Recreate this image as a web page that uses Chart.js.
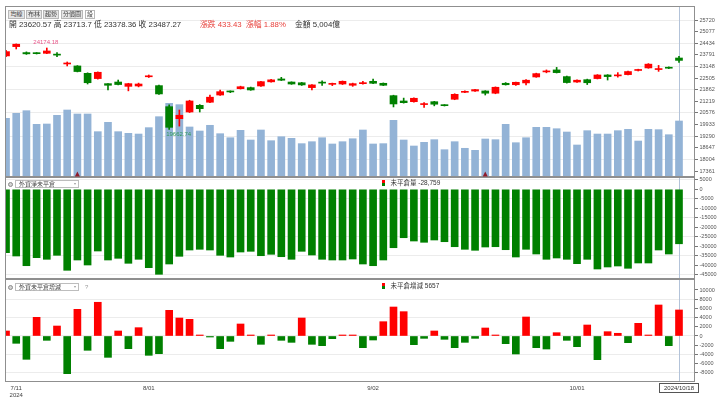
<!DOCTYPE html>
<html>
<head>
<meta charset="utf-8">
<script src="https://cdn.jsdelivr.net/npm/chart.js"></script>
<style>
  body { margin:0; width:720px; height:399px; overflow:hidden; position:relative; background:#fff;
         font-family:"Liberation Sans","Noto Sans CJK TC",sans-serif; color:#333; }
  .wrap { position:absolute; left:0; width:720px; }
  .ov { position:absolute; white-space:nowrap; z-index:2; }
  .tab { position:absolute; top:10px; height:9px; box-sizing:border-box; border:1px solid #b8b8b8;
         background:#e6e6e6; font-size:6px; line-height:7px; text-align:center; z-index:2; color:#444; }
  .info { top:20.5px; font-size:7.8px; line-height:8px; }
  .up { color:#e8413c; }
  .knob { position:absolute; width:5px; height:5px; box-sizing:border-box; border-radius:50%;
          border:1px solid #8a8a8a; background:#d4d4d4; z-index:2; }
  .sel { position:absolute; left:15px; width:64px; height:8px; box-sizing:border-box; border:1px solid #bdbdbd;
         background:#fff; font-size:6px; line-height:6px; padding-left:3px; color:#444; z-index:2; }
  .sel i { position:absolute; right:2px; top:2px; width:0; height:0; border-left:1.5px solid transparent;
           border-right:1.5px solid transparent; border-top:2px solid #999; }
  .legico { position:absolute; left:382px; width:3px; height:6px; z-index:2;
            background:linear-gradient(#f00 0 50%, #008000 50% 100%); }
  .leg { font-size:6.5px; line-height:7px; color:#333; }
</style>
</head>
<body>
<div class="wrap" style="top:0;height:178px"><canvas id="c1"></canvas></div>
<div class="wrap" style="top:177px;height:103px"><canvas id="c2"></canvas></div>
<div class="wrap" style="top:279px;height:120px"><canvas id="c3"></canvas></div>

<div class="tab" style="left:8px;width:17px">均線</div>
<div class="tab" style="left:26px;width:16px">布林</div>
<div class="tab" style="left:43px;width:16px">趨勢</div>
<div class="tab" style="left:61px;width:22px">分價圖</div>
<div class="tab" style="left:85px;width:10px;background:#fff">設</div>

<div class="ov info" id="ohlc" style="left:9px"></div>
<div class="ov info up" id="chg" style="left:200px"></div>
<div class="ov info up" id="pct" style="left:246px"></div>
<div class="ov info" id="amt" style="left:295px"></div>

<div class="knob" style="left:7.5px;top:181.5px"></div>
<div class="sel" style="top:179.5px">外資淨未平倉<i></i></div>
<div class="legico" style="top:179.5px"></div>
<div class="ov leg" id="leg2" style="left:390.5px;top:179px"></div>

<div class="knob" style="left:7.5px;top:284.5px"></div>
<div class="sel" style="top:283px">外資未平倉增減<i></i></div>
<div class="ov" style="left:85px;top:284px;font-size:6px;color:#999">?</div>
<div class="legico" style="top:282.5px"></div>
<div class="ov leg" id="leg3" style="left:390.5px;top:282px"></div>

<script>
const year = "2024";
const dates = ["7/10", "7/11", "7/12", "7/15", "7/16", "7/17", "7/18", "7/19", "7/22", "7/23",
  "7/26", "7/29", "7/30", "7/31", "8/01", "8/02", "8/05", "8/06", "8/07", "8/08",
  "8/09", "8/12", "8/13", "8/14", "8/15", "8/16", "8/19", "8/20", "8/21", "8/22",
  "8/23", "8/26", "8/27", "8/28", "8/29", "8/30", "9/02", "9/03", "9/04", "9/05",
  "9/06", "9/09", "9/10", "9/11", "9/12", "9/13", "9/16", "9/18", "9/19", "9/20",
  "9/23", "9/24", "9/25", "9/26", "9/27", "9/30", "10/01", "10/04", "10/07", "10/08",
  "10/09", "10/11", "10/14", "10/15", "10/16", "10/17", "10/18"];

const opens = [23735, 24250, 23920, 23890, 23880, 23830, 23290, 23180, 22770, 22480,
  22200, 22290, 22050, 22070, 22580, 22090, 20925, 20260, 20630, 21000,
  21170, 21570, 21770, 21920, 21980, 22070, 22300, 22460, 22290, 22250,
  21980, 22260, 22160, 22180, 22110, 22200, 22330, 22220, 21535, 21240,
  21200, 21040, 21200, 21030, 21335, 21720, 21790, 21795, 21670, 22220,
  22140, 22240, 22570, 22850, 22960, 22590, 22290, 22420, 22480, 22680,
  22630, 22700, 22930, 23070, 22980, 23110, 23620.57];
const highs = [24040, 24400, 23960, 23920, 24174.18, 23920, 23400, 23200, 22800, 22850,
  22210, 22400, 22220, 22230, 22680, 22120, 21020, 20740, 21280, 21040,
  21570, 21850, 21800, 22060, 22010, 22330, 22440, 22550, 22300, 22270,
  22150, 22360, 22230, 22350, 22230, 22330, 22450, 22240, 21560, 21400,
  21410, 21150, 21220, 21040, 21640, 21800, 21890, 21810, 22020, 22260,
  22290, 22420, 22780, 22960, 23100, 22620, 22410, 22450, 22700, 22700,
  22810, 22900, 23000, 23310, 23210, 23130, 23713.7];
const lows = [23700, 24120, 23820, 23840, 23860, 23700, 23180, 22850, 22180, 22450,
  21850, 22130, 21800, 22020, 22540, 21600, 19662.74, 19850, 20600, 20630,
  21140, 21550, 21700, 21900, 21830, 22050, 22280, 22370, 22160, 22100,
  21850, 22100, 22090, 22150, 22050, 22170, 22200, 22090, 20910, 21120,
  21170, 20880, 20970, 20960, 21310, 21700, 21770, 21570, 21640, 22120,
  22100, 22130, 22550, 22800, 22790, 22230, 22270, 22150, 22460, 22400,
  22560, 22680, 22900, 23050, 22880, 23030, 23378.36];
const closes = [23974, 24384, 23850, 23860, 24010, 23780, 23320, 22870, 22250, 22830,
  22110, 22150, 22200, 22180, 22620, 21630, 19780, 20450, 21240, 20815,
  21450, 21755, 21740, 22030, 21850, 22310, 22410, 22390, 22180, 22130,
  22130, 22230, 22180, 22330, 22200, 22250, 22220, 22110, 21075, 21145,
  21390, 21075, 21060, 20980, 21610, 21770, 21870, 21670, 22000, 22140,
  22275, 22390, 22755, 22870, 22810, 22260, 22390, 22250, 22680, 22590,
  22670, 22870, 22960, 23280, 23010, 23053.84, 23487.27];
// 成交金額（億）
const volumes = [5245, 5690, 5925, 4707, 4736, 5510, 5987, 5630, 5630, 4050,
  4885, 4050, 3900, 3840, 4410, 5390, 6585, 6465, 4470, 4110,
  4620, 3870, 3510, 4170, 3305, 4200, 3245, 3600, 3455, 2980,
  3155, 3510, 2950, 3155, 3420, 4200, 2950, 2980, 5065, 3305,
  2770, 3100, 3335, 2440, 3155, 2565, 2385, 3395, 3335, 4707,
  3065, 3510, 4440, 4440, 4315, 4020, 2860, 4140, 3840, 3840,
  4140, 4260, 3215, 4260, 4230, 3780, 5004];
const netOI = [-33470, -35220, -40340, -36110, -36960, -34850, -42770, -37330, -39970, -32580,
  -37330, -36430, -39070, -36960, -41390, -44880, -39440, -35380, -32050, -31680,
  -32050, -34850, -35750, -33110, -32740, -35060, -34320, -35590, -36960, -32740,
  -34690, -36960, -37330, -37330, -36800, -39440, -40340, -37330, -30840, -25560,
  -27300, -27980, -26770, -27670, -30310, -31680, -32210, -30470, -30310, -31890,
  -35750, -31680, -34160, -36960, -36270, -36960, -39280, -36960, -42080, -41020,
  -40500, -41710, -38910, -38910, -32050, -34160, -28759];
const oiChange = [1090, -1590, -5070, 4060, -940, 2170, -8190, 5800, -3110, 7330,
  -4640, 1090, -2750, 1810, -4200, -3840, 5580, 3910, 3620, 100,
  -100, -2750, -1160, 2610, 80, -1810, 220, -940, -1380, 3910,
  -1810, -2100, -580, 220, 220, -2540, -870, 3110, 6300, 5290,
  -1880, -510, 1090, -720, -2540, -1380, -510, 1740, 220, -1670,
  -3910, 4130, -2540, -2830, 720, -940, -2320, 2390, -5150, 940,
  590, -1450, 2750, 30, 6740, -2100, 5657];

const priceTicks = [17361, 18004, 18647, 19290, 19933, 20576, 21219, 21862, 22505, 23148, 23791, 24434, 25077, 25720];
const netOITicks = [-45000, -40000, -35000, -30000, -25000, -20000, -15000, -10000, -5000, 0, 5000];
const oiChangeTicks = [-8000, -6000, -4000, -2000, 0, 2000, 4000, 6000, 8000, 10000];
const dateTickIdx = [1, 14, 36, 56];
const markerIdx = [7, 47];
const peakIdx = 4, troughIdx = 16, cursorIdx = 66;

const RED = "#ff0000", GREEN = "#008000", VOL = "#93b3d6";
const AXIS_FONT = { family: "Liberation Sans", size: 5.5 };

// header texts from the last day
const last = cursorIdx;
const diff = closes[last] - closes[last - 1];
document.getElementById("ohlc").textContent =
  "開 " + opens[last] + "  高 " + highs[last] + "  低 " + lows[last] + "  收 " + closes[last];
document.getElementById("chg").textContent = "漲跌 " + diff.toFixed(2);
document.getElementById("pct").textContent = "漲幅  " + (diff / closes[last - 1] * 100).toFixed(2) + "%";
document.getElementById("amt").textContent = "金額 " + volumes[last].toLocaleString("en-US") + "億";
document.getElementById("leg2").textContent = "未平倉量 " + netOI[last].toLocaleString("en-US");
document.getElementById("leg3").textContent = "未平倉增減 " + oiChange[last];

const pts = arr => arr.map((v, i) => ({ x: i, y: v }));
const candleColor = ctx => closes[ctx.dataIndex] >= opens[ctx.dataIndex] ? RED : GREEN;
const signColor = arr => ctx => arr[ctx.dataIndex] >= 0 ? RED : GREEN;
const barOpts = { grouped: false, categoryPercentage: 1, barPercentage: 1, maxBarThickness: 7 };

function xAxis() {
  return { type: "linear", min: -0.1, max: 67.57, offset: false, display: false, grid: { offset: false } };
}

function yAxis(min, max, ticks, parity) {
  return {
    axis: "y", position: "right", min, max,
    afterBuildTicks: s => { s.ticks = ticks.map(v => ({ value: v })); },
    afterFit: s => { s.width = 25; s.paddingTop = 0; s.paddingBottom = 0; },
    ticks: { font: AXIS_FONT, color: "#555", padding: 1.5, autoSkip: false, callback: v => String(v) },
    grid: {
      color: ctx => (ctx.tick && ticks.indexOf(ctx.tick.value) % 2 === parity) ? "#ececec" : "rgba(0,0,0,0)",
      tickColor: "#777", tickLength: 3
    },
    border: { display: false }
  };
}

const framePlugin = {
  id: "frame",
  beforeDatasetsDraw(chart) {
    const { ctx, chartArea: a } = chart;
    const px = Math.round(chart.scales.x.getPixelForValue(cursorIdx)) + 0.5;
    ctx.save();
    ctx.strokeStyle = "#b3c3d9";
    ctx.lineWidth = 1;
    ctx.beginPath();
    ctx.moveTo(px, a.top);
    ctx.lineTo(px, a.bottom);
    ctx.stroke();
    ctx.restore();
  },
  afterDatasetsDraw(chart) {
    const { ctx, chartArea: a } = chart;
    ctx.save();
    ctx.strokeStyle = "#8f8f8f";
    ctx.lineWidth = 1;
    ctx.strokeRect(a.left + 0.5, a.top + 0.5, a.right - a.left - 1, a.bottom - a.top - 1);
    ctx.restore();
  }
};

const baseOptions = (padding) => ({
  animation: false, responsive: true, maintainAspectRatio: false, events: [],
  layout: { padding },
  plugins: { legend: { display: false }, tooltip: { enabled: false } }
});

// main panel: candles + volume
new Chart(document.getElementById("c1"), {
  type: "bar",
  data: {
    datasets: [
      { data: pts(volumes), yAxisID: "yv", backgroundColor: VOL, order: 3, ...barOpts },
      { data: lows.map((l, i) => ({ x: i, y: [l, highs[i]] })), yAxisID: "y",
        backgroundColor: candleColor, order: 2, ...barOpts, maxBarThickness: 1 },
      { data: opens.map((o, i) => ({ x: i, y: [o, closes[i]] })), yAxisID: "y",
        backgroundColor: candleColor, order: 1, minBarLength: 1, ...barOpts }
    ]
  },
  options: {
    ...baseOptions({ left: 5, top: 6, right: 0, bottom: 1 }),
    scales: {
      x: xAxis(),
      y: yAxis(17030, 26500, priceTicks, 1),
      yv: { axis: "y", display: false, min: 0, max: 15280 }
    }
  },
  plugins: [framePlugin, {
    id: "marks",
    afterDatasetsDraw(chart) {
      const { ctx, chartArea: a } = chart;
      const x = chart.scales.x, y = chart.scales.y;
      ctx.save();
      ctx.font = '6px "Liberation Sans"';
      ctx.fillStyle = "#e8578a";
      ctx.textAlign = "center";
      ctx.textBaseline = "bottom";
      ctx.fillText(highs[peakIdx].toFixed(2), x.getPixelForValue(peakIdx) - 1, y.getPixelForValue(highs[peakIdx]) - 2.5);
      ctx.fillStyle = "#2f9a57";
      ctx.textAlign = "left";
      ctx.textBaseline = "top";
      ctx.fillText(lows[troughIdx].toFixed(2), x.getPixelForValue(troughIdx) - 3, y.getPixelForValue(lows[troughIdx]) + 1.5);
      ctx.fillStyle = "#8e1b2b";
      markerIdx.forEach(i => {
        const px = x.getPixelForValue(i), b = a.bottom - 0.5;
        ctx.beginPath();
        ctx.moveTo(px - 2.5, b);
        ctx.lineTo(px + 2.5, b);
        ctx.lineTo(px, b - 5);
        ctx.closePath();
        ctx.fill();
      });
      ctx.restore();
    }
  }]
});

// 外資淨未平倉
new Chart(document.getElementById("c2"), {
  type: "bar",
  data: { datasets: [{ data: pts(netOI), backgroundColor: signColor(netOI), ...barOpts }] },
  options: {
    ...baseOptions({ left: 5, top: 0, right: 0, bottom: 1 }),
    scales: { x: xAxis(), y: yAxis(-47360, 6500, netOITicks, 0) }
  },
  plugins: [framePlugin]
});

// 外資未平倉增減
new Chart(document.getElementById("c3"), {
  type: "bar",
  data: { datasets: [{ data: pts(oiChange), backgroundColor: signColor(oiChange), minBarLength: 1, ...barOpts }] },
  options: {
    ...baseOptions({ left: 5, top: 0, right: 0, bottom: 0 }),
    scales: {
      x: {
        ...xAxis(), display: true,
        afterBuildTicks: s => { s.ticks = dateTickIdx.map(i => ({ value: i })); },
        afterFit: s => { s.height = 17; s.paddingLeft = 0; s.paddingRight = 0; },
        grid: { display: false, drawTicks: false, offset: false },
        border: { display: false },
        ticks: {
          autoSkip: false, maxRotation: 0, padding: 3, color: "#444",
          font: { family: "Liberation Sans", size: 6, lineHeight: 1.15 },
          callback: v => v === dateTickIdx[0] ? [dates[v], year] : dates[v]
        }
      },
      y: yAxis(-10000, 12390, oiChangeTicks, 0)
    }
  },
  plugins: [framePlugin, {
    id: "cursorDate",
    afterDraw(chart) {
      const { ctx, chartArea: a } = chart;
      const px = Math.round(chart.scales.x.getPixelForValue(cursorIdx));
      const top = a.bottom + 1.5;
      ctx.save();
      ctx.fillStyle = "#fff";
      ctx.strokeStyle = "#555";
      ctx.lineWidth = 1;
      ctx.fillRect(px - 19.5, top, 39, 9);
      ctx.strokeRect(px - 19.5, top, 39, 9);
      ctx.fillStyle = "#333";
      ctx.font = '6px "Liberation Sans"';
      ctx.textAlign = "center";
      ctx.textBaseline = "middle";
      ctx.fillText(year + "/" + dates[cursorIdx], px, top + 4.8);
      ctx.restore();
    }
  }]
});
</script>
</body>
</html>
